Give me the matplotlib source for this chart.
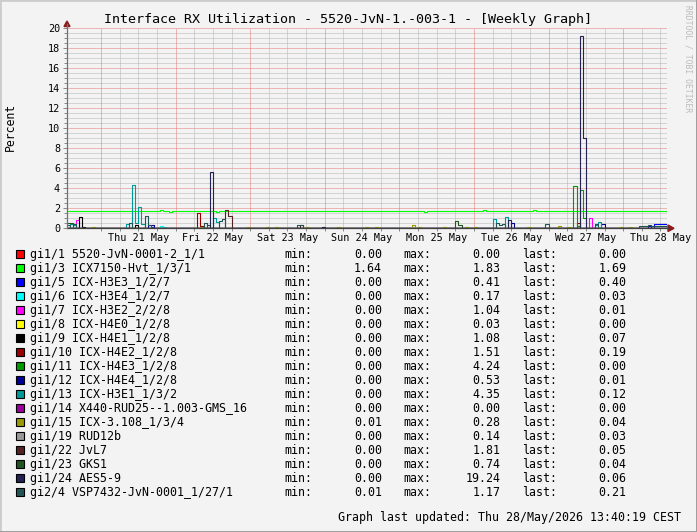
import matplotlib
matplotlib.use("Agg")
import matplotlib.pyplot as plt
import numpy as np
from matplotlib.patches import Polygon, Rectangle

W, H = 697, 532
MONO = "DejaVu Sans Mono"
BG = "#F3F3F3"

# -- series definitions -------------------------------------------------------
NAMES = [
    "gi1/1 5520-JvN-0001-2_1/1", "gi1/3 ICX7150-Hvt_1/3/1", "gi1/5 ICX-H3E3_1/2/7",
    "gi1/6 ICX-H3E4_1/2/7", "gi1/7 ICX-H3E2_2/2/8", "gi1/8 ICX-H4E0_1/2/8",
    "gi1/9 ICX-H4E1_1/2/8", "gi1/10 ICX-H4E2_1/2/8", "gi1/11 ICX-H4E3_1/2/8",
    "gi1/12 ICX-H4E4_1/2/8", "gi1/13 ICX-H3E1_1/3/2", "gi1/14 X440-RUD25--1.003-GMS_16",
    "gi1/15 ICX-3.108_1/3/4", "gi1/19 RUD12b", "gi1/22 JvL7", "gi1/23 GKS1",
    "gi1/24 AES5-9", "gi2/4 VSP7432-JvN-0001_1/27/1",
]
COLORS = [
    "#FF0000", "#00FF00", "#0000FF", "#00FFFF", "#FF00FF", "#FFFF00", "#000000",
    "#990000", "#009900", "#000099", "#009999", "#990099", "#999900", "#999999",
    "#552222", "#225522", "#222255", "#225555",
]
MINS = [0.00, 1.64, 0.00, 0.00, 0.00, 0.00, 0.00, 0.00, 0.00, 0.00, 0.00, 0.00,
        0.01, 0.00, 0.00, 0.00, 0.00, 0.01]
MAXS = [0.00, 1.83, 0.41, 0.17, 1.04, 0.03, 1.08, 1.51, 4.24, 0.53, 4.35, 0.00,
        0.28, 0.14, 1.81, 0.74, 19.24, 1.17]
LASTS = [0.00, 1.69, 0.40, 0.03, 0.01, 0.00, 0.07, 0.19, 0.00, 0.01, 0.12, 0.00,
         0.04, 0.03, 0.05, 0.04, 0.06, 0.21]

# hourly samples, hour 0 = Thu 21 May 00:00; (hour, value), baseline elsewhere
BASELINES = [0, 1.70] + [0] * 16
GI1_1 = []
GI1_3 = [(19, 1.83), (22, 1.64), (37, 1.64), (104, 1.64), (123, 1.78), (139, 1.78), (182, 1.69)]
GI1_5 = [(16, 0.1), (178, 0.41), (179, 0.40), (180, 0.40), (181, 0.40), (182, 0.40)]
GI1_6 = [(19, 0.17), (20, 0.1), (182, 0.03)]
GI1_7 = [(-8, 0.8), (157, 1.04), (182, 0.01)]
GI1_8 = [(60, 0.03)]
GI1_9 = [(-7, 1.08), (-6, 0.1), (11, 0.3), (182, 0.07)]
GI1_10 = [(31, 1.51), (32, 0.2), (153, 0.5), (182, 0.19)]
GI1_11 = [(152, 4.24), (153, 0.2), (154, 3.8), (155, 1.0)]
GI1_12 = [(15, 0.3), (16, 0.3), (132, 0.53), (161, 0.4), (176, 0.2), (182, 0.01)]
GI1_13 = [(-10, 0.4), (-9, 0.3), (8, 0.4), (10, 4.35), (11, 0.5), (12, 2.1), (13, 0.4),
          (36, 1.0), (37, 0.6), (126, 0.9), (130, 1.1), (159, 0.3), (160, 0.6), (182, 0.12)]
GI1_14 = []
GI1_15 = [(-3, 0.1), (32, 0.1), (47, 0.1), (53, 0.1), (56, 0.1), (66, 0.1), (71, 0.1),
          (76, 0.1), (85, 0.1), (88, 0.1), (100, 0.28), (102, 0.1), (110, 0.1), (117, 0.1),
          (120, 0.1), (137, 0.1), (147, 0.2), (150, 0.1), (167, 0.1), (170, 0.1), (182, 0.04)]
GI1_19 = [(60, 0.14), (182, 0.03)]
GI1_22 = [(40, 1.81), (41, 1.2), (64, 0.3), (182, 0.05)]
GI1_23 = [(-11, 0.5), (-10, 0.5), (34, 0.3), (114, 0.74), (115, 0.3), (182, 0.04)]
GI1_24 = [(35, 5.6), (71, 0.1), (131, 0.8), (154, 19.24), (155, 9.0), (182, 0.06)]
GI2_4 = [(-11, 0.3), (-9, 0.4), (9, 0.5), (14, 1.17), (15, 0.3), (33, 0.5), (38, 0.7),
         (39, 0.9), (63, 0.3), (64, 0.3), (127, 0.5), (128, 0.3), (129, 0.4), (143, 0.4),
         (159, 0.4), (173, 0.2), (174, 0.2), (175, 0.2), (176, 0.3), (177, 0.2),
         (178, 0.2), (179, 0.2), (180, 0.2), (181, 0.21), (182, 0.21)]
SERIES = [GI1_1, GI1_3, GI1_5, GI1_6, GI1_7, GI1_8, GI1_9, GI1_10, GI1_11, GI1_12,
          GI1_13, GI1_14, GI1_15, GI1_19, GI1_22, GI1_23, GI1_24, GI2_4]

DAY_LABELS = ["Thu 21 May", "Fri 22 May", "Sat 23 May", "Sun 24 May",
              "Mon 25 May", "Tue 26 May", "Wed 27 May", "Thu 28 May"]

HOURS = np.arange(-11, 183)
X0, X1 = -10.94, 182.1


def fx(x):
    return x / W


def fy(y):
    return 1 - y / H


def main():
    fig = plt.figure(figsize=(W / 100, H / 100), dpi=100, facecolor=BG)
    ax = fig.add_axes([fx(67), fy(228), (667 - 67) / W, 200 / H])
    ax.set_facecolor(BG)
    ax.set_xlim(X0, X1)
    ax.set_ylim(0, 20)
    for s in ax.spines.values():
        s.set_visible(False)

    # grid (rrdtool style dotted)
    for v in np.arange(0.5, 20.01, 0.5):
        major = abs(v / 2 - round(v / 2)) < 1e-6
        ax.axhline(v, color="#E47878" if major else "#B4B4B4", lw=0.72,
                   ls=(0, (1, 1)), zorder=0)
    for h in np.arange(0, 181, 6):
        major = h % 24 == 0
        ax.axvline(h, color="#E47878" if major else "#B4B4B4", lw=0.72,
                   ls=(0, (1, 1)), zorder=0)

    # data lines (1px step lines, snapped to the pixel grid)
    for pts, base, c in zip(SERIES, BASELINES, COLORS):
        v = np.full(len(HOURS), float(base))
        for h, val in pts:
            v[h + 11] = val
        ax.step(HOURS, v, where="post", color=c, lw=0.8, zorder=2, snap=True)

    # ticks
    ax.set_yticks(np.arange(0, 21, 2))
    ax.set_yticklabels([str(int(t)) for t in np.arange(0, 21, 2)],
                       fontfamily=MONO, fontsize=7.3)
    ax.set_yticks(np.arange(0, 20.01, 0.5), minor=True)
    ax.set_xticks(np.arange(0, 181, 24))
    ax.set_xticklabels([])
    ax.set_xticks(np.arange(0, 181, 6), minor=True)
    ax.tick_params(axis="both", which="both", direction="out", color="#888888",
                   length=2, width=0.7, pad=3)
    ax.tick_params(axis="y", which="major", length=3, pad=2)
    for i, lab in enumerate(DAY_LABELS):
        ax.text(12 + 24 * i, -0.5, lab, ha="center", va="top", fontfamily=MONO,
                fontsize=7.3, clip_on=False)

    # axes lines + arrows
    fig.add_artist(plt.Line2D([fx(67), fx(669)], [fy(228.3), fy(228.3)],
                              color="#404040", lw=0.9))
    fig.add_artist(plt.Line2D([fx(67), fx(67)], [fy(228.3), fy(24)],
                              color="#707070", lw=0.9))
    fig.add_artist(Polygon([[fx(64), fy(26.5)], [fx(70), fy(26.5)], [fx(67), fy(21)]],
                           closed=True, color="#8B1A1A", transform=fig.transFigure))
    fig.add_artist(Polygon([[fx(668), fy(225)], [fx(668), fy(231.5)], [fx(674), fy(228.3)]],
                           closed=True, color="#8B1A1A", transform=fig.transFigure))

    # titles
    fig.text(fx(348), fy(19), "Interface RX Utilization - 5520-JvN-1.-003-1 - [Weekly Graph]",
             ha="center", va="center", fontfamily=MONO, fontsize=9.6)
    fig.text(fx(10), fy(127), "Percent", rotation=90, ha="center", va="center",
             fontfamily=MONO, fontsize=8.3)
    fig.text(fx(688), fy(5), "RRDTOOL / TOBI OETIKER", rotation=270, ha="center",
             va="top", fontfamily=MONO, fontsize=5.8, color="#BBBBBB")

    # legend
    for i, (name, c, mn, mx, la) in enumerate(zip(NAMES, COLORS, MINS, MAXS, LASTS)):
        y = 254 + 14.02 * i
        fig.add_artist(Rectangle((fx(16), fy(y + 4)), 8 / W, 8 / H, facecolor=c,
                                 edgecolor="black", lw=0.8, transform=fig.transFigure))
        kw = dict(va="center", fontfamily=MONO, fontsize=8.4)
        fig.text(fx(30), fy(y), name, ha="left", **kw)
        fig.text(fx(284), fy(y), "min:", ha="left", **kw)
        fig.text(fx(382), fy(y), f"{mn:.2f}", ha="right", **kw)
        fig.text(fx(403), fy(y), "max:", ha="left", **kw)
        fig.text(fx(500.5), fy(y), f"{mx:.2f}", ha="right", **kw)
        fig.text(fx(522.5), fy(y), "last:", ha="left", **kw)
        fig.text(fx(626.5), fy(y), f"{la:.2f}", ha="right", **kw)

    fig.text(fx(681), fy(517.5), "Graph last updated: Thu 28/May/2026 13:40:19 CEST",
             ha="right", va="center", fontfamily=MONO, fontsize=8.4)

    # frame shading
    fig.add_artist(Rectangle((0, 0), 1, 1, fill=False, edgecolor="#CCCCCC", lw=2,
                             transform=fig.transFigure))
    fig.add_artist(plt.Line2D([0, 1], [0.5 / H, 0.5 / H], color="#9A9A9A", lw=2))
    fig.add_artist(plt.Line2D([1 - 0.5 / W, 1 - 0.5 / W], [0, 1], color="#9A9A9A", lw=2))

    fig.savefig("out.png", dpi=100, facecolor=BG)
    plt.close(fig)


if __name__ == "__main__":
    main()
